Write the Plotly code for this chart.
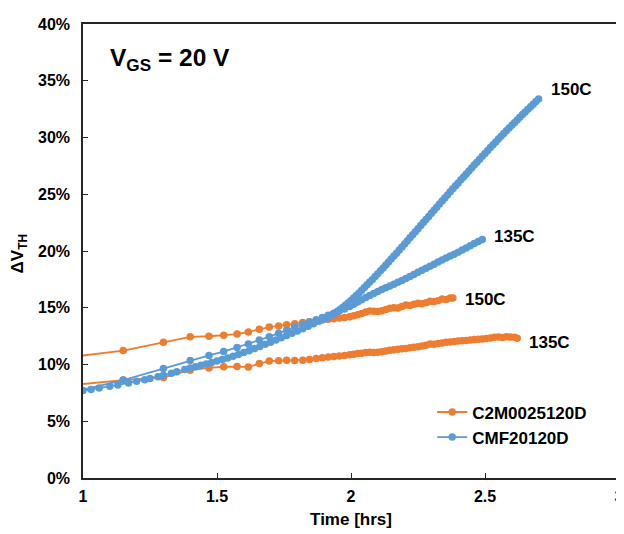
import plotly.graph_objects as go

# ---------------- data (x = Time axis value, y = delta VTH in %) ----------------
c2m_150_x = [0.90, 1.15, 1.30, 1.40, 1.47, 1.525, 1.575, 1.617, 1.658, 1.695, 1.73, 1.76, 1.79, 1.82,
             1.845, 1.87, 1.893, 1.915, 1.936, 1.956, 1.976, 1.995, 2.01, 2.025, 2.04, 2.055, 2.07,
             2.085, 2.10, 2.115, 2.13, 2.145, 2.16, 2.175, 2.19, 2.205, 2.22, 2.235, 2.25, 2.265,
             2.28, 2.295, 2.31, 2.325, 2.34, 2.355, 2.37, 2.38]
c2m_150_y = [10.5, 11.23, 11.95, 12.44, 12.49, 12.58, 12.68, 12.87, 13.1, 13.3, 13.4, 13.5, 13.6, 13.7,
             13.77, 13.85, 13.92, 13.98, 14.03, 14.1, 14.15, 14.2, 14.3, 14.38, 14.5, 14.62, 14.72,
             14.7, 14.68, 14.74, 14.85, 14.95, 15.0, 14.98, 15.1, 15.25, 15.2, 15.3, 15.4, 15.35,
             15.45, 15.58, 15.55, 15.62, 15.78, 15.72, 15.85, 15.85]

c2m_135_x = [0.90, 1.15, 1.30, 1.40, 1.47, 1.525, 1.575, 1.617, 1.658, 1.695, 1.73, 1.76, 1.79, 1.82,
             1.845, 1.87, 1.893, 1.915, 1.936, 1.956, 1.976, 1.995, 2.01, 2.025, 2.04, 2.055, 2.07,
             2.085, 2.10, 2.115, 2.13, 2.145, 2.16, 2.175, 2.19, 2.205, 2.22, 2.235, 2.25, 2.265,
             2.28, 2.295, 2.31, 2.325, 2.34, 2.355, 2.37, 2.385, 2.40, 2.415, 2.43, 2.445, 2.46,
             2.475, 2.49, 2.505, 2.52, 2.535, 2.55, 2.565, 2.58, 2.595, 2.61, 2.62]
c2m_135_y = [8.05, 8.63, 8.86, 9.5, 9.7, 9.8, 9.82, 9.78, 10.08, 10.3, 10.33, 10.38, 10.36, 10.38,
             10.45, 10.52, 10.6, 10.66, 10.7, 10.74, 10.8, 10.85, 10.9, 10.96, 11.0, 11.05, 11.08,
             11.06, 11.08, 11.12, 11.2, 11.25, 11.3, 11.35, 11.38, 11.42, 11.48, 11.52, 11.56, 11.62,
             11.7, 11.8, 11.78, 11.84, 11.9, 11.95, 11.98, 12.02, 12.06, 12.1, 12.12, 12.15, 12.2,
             12.22, 12.25, 12.3, 12.33, 12.4, 12.42, 12.38, 12.44, 12.42, 12.4, 12.32]

cmf_150_x = [1.00, 1.03, 1.06, 1.10, 1.13, 1.17, 1.20, 1.23, 1.25, 1.28, 1.30, 1.33, 1.35, 1.38, 1.40,
             1.42, 1.44, 1.46, 1.48, 1.50, 1.52, 1.54, 1.56, 1.58, 1.60, 1.62, 1.64, 1.66, 1.68, 1.70,
             1.72, 1.74, 1.76, 1.78, 1.80, 1.82, 1.84, 1.86, 1.88, 1.90, 1.91, 1.92, 1.93, 1.94, 1.95,
             1.96, 1.97, 1.98, 1.99, 2.00, 2.01, 2.02, 2.03, 2.04, 2.05, 2.06, 2.07, 2.08, 2.09, 2.10,
             2.11, 2.12, 2.13, 2.14, 2.15, 2.16, 2.17, 2.18, 2.19, 2.20, 2.21, 2.22, 2.23, 2.24, 2.25,
             2.26, 2.27, 2.28, 2.29, 2.30, 2.31, 2.32, 2.33, 2.34, 2.35, 2.36, 2.37, 2.38, 2.39, 2.40,
             2.41, 2.42, 2.43, 2.44, 2.45, 2.46, 2.47, 2.48, 2.49, 2.50, 2.51, 2.52, 2.53, 2.54, 2.55,
             2.56, 2.57, 2.58, 2.59, 2.60, 2.61, 2.62, 2.63, 2.64, 2.65, 2.66, 2.67, 2.68, 2.69, 2.70]
cmf_150_y = [7.70, 7.80, 7.92, 8.08, 8.20, 8.38, 8.52, 8.66, 8.77, 8.93, 9.05, 9.24, 9.37, 9.56, 9.69,
             9.81, 9.93, 10.05, 10.17, 10.30, 10.44, 10.58, 10.72, 10.88, 11.05, 11.22, 11.40, 11.59,
             11.78, 11.97, 12.16, 12.35, 12.55, 12.75, 12.95, 13.16, 13.38, 13.60, 13.80, 14.00, 14.12,
             14.25, 14.39, 14.54, 14.70, 14.87, 15.05, 15.24, 15.44, 15.64, 15.86, 16.08, 16.31, 16.54,
             16.78, 17.02, 17.26, 17.50, 17.75, 18.00, 18.25, 18.51, 18.77, 19.03, 19.29, 19.55, 19.81,
             20.08, 20.35, 20.62, 20.89, 21.16, 21.43, 21.70, 21.97, 22.24, 22.51, 22.78, 23.05, 23.32,
             23.59, 23.86, 24.13, 24.40, 24.67, 24.94, 25.21, 25.48, 25.74, 26.00, 26.27, 26.53, 26.79,
             27.05, 27.31, 27.57, 27.83, 28.09, 28.35, 28.60, 28.86, 29.11, 29.36, 29.61, 29.86, 30.11,
             30.35, 30.59, 30.83, 31.07, 31.31, 31.55, 31.79, 32.02, 32.25, 32.48, 32.71, 32.94, 33.17,
             33.40]

cmf_135_x = [0.90, 1.15, 1.30, 1.40, 1.47, 1.525, 1.575, 1.617, 1.658, 1.695, 1.73, 1.76, 1.79, 1.82,
             1.845, 1.87, 1.893, 1.915, 1.936, 1.956, 1.976, 1.995, 2.01, 2.025, 2.04, 2.055, 2.07,
             2.085, 2.10, 2.115, 2.13, 2.145, 2.16, 2.175, 2.19, 2.205, 2.22, 2.235, 2.25, 2.265,
             2.28, 2.295, 2.31, 2.325, 2.34, 2.355, 2.37, 2.385, 2.40, 2.415, 2.43, 2.445, 2.46,
             2.475, 2.49]
cmf_135_y = [7.2, 8.63, 9.64, 10.36, 10.8, 11.14, 11.5, 11.8, 12.15, 12.45, 12.76, 13.02, 13.28, 13.52,
             13.74, 13.95, 14.14, 14.33, 14.52, 14.72, 14.9, 15.1, 15.3, 15.5, 15.7, 15.9, 16.08,
             16.26, 16.44, 16.6, 16.76, 16.92, 17.08, 17.24, 17.4, 17.57, 17.75, 17.93, 18.12, 18.3,
             18.48, 18.66, 18.84, 19.02, 19.2, 19.38, 19.55, 19.72, 19.9, 20.08, 20.27, 20.46, 20.65,
             20.84, 21.02]

x_ticks = [1, 1.5, 2, 2.5, 3]
x_tick_text = ["1", "1.5", "2", "2.5", "3"]
y_ticks = [0, 5, 10, 15, 20, 25, 30, 35, 40]
y_tick_text = ["0%", "5%", "10%", "15%", "20%", "25%", "30%", "35%", "40%"]

series_names = ["C2M0025120D", "CMF20120D"]
curve_labels = ["150C", "135C"]

ORANGE = "#ED7D31"
BLUE = "#5B9BD5"
FONT = "Liberation Sans, Arial, sans-serif"
AXIS = "#262626"

fig = go.Figure()

def add(x, y, color, name, show):
    fig.add_trace(go.Scatter(
        x=x, y=y, mode="lines+markers", name=name, legendgroup=name, showlegend=show,
        line=dict(color=color, width=1.8),
        marker=dict(color=color, size=7.5, symbol="circle"),
    ))

add(c2m_150_x, c2m_150_y, ORANGE, series_names[0], True)
add(c2m_135_x, c2m_135_y, ORANGE, series_names[0], False)
add(cmf_150_x, cmf_150_y, BLUE, series_names[1], True)
add(cmf_135_x, cmf_135_y, BLUE, series_names[1], False)

# curve end labels
label_specs = [
    (curve_labels[0], 2.739, 34.2),
    (curve_labels[1], 2.525, 21.3),
    (curve_labels[0], 2.419, 15.7),
    (curve_labels[1], 2.655, 11.95),
]
for txt, lx, ly in label_specs:
    fig.add_annotation(x=lx, y=ly, xref="x", yref="y", text="<b>%s</b>" % txt,
                       showarrow=False, xanchor="left", yanchor="middle",
                       font=dict(family=FONT, size=17, color="#000000"))

fig.add_annotation(x=1.093, y=36.9, xref="x", yref="y",
                   text="<b>V<sub>GS</sub> = 20 V</b>", showarrow=False,
                   xanchor="left", yanchor="middle",
                   font=dict(family=FONT, size=24.5, color="#000000"))

fig.add_annotation(x=-0.12, y=0.494, xref="paper", yref="paper",
                   text="<b>ΔV<sub>TH</sub></b>", showarrow=False, textangle=-90,
                   xanchor="center", yanchor="middle",
                   font=dict(family=FONT, size=17, color="#000000"))

fig.update_layout(
    width=624, height=534,
    margin=dict(l=75, r=13, t=8, b=64),
    paper_bgcolor="white", plot_bgcolor="white",
    font=dict(family=FONT, size=16, color="#000000"),
    legend=dict(x=0.6515, y=0.184, xanchor="left", yanchor="top",
                bgcolor="rgba(0,0,0,0)",
                font=dict(family=FONT, size=17, color="#000000", weight="bold"),
                itemwidth=30, tracegroupgap=0),
    xaxis=dict(range=[1, 3], tickmode="array", tickvals=x_ticks,
               ticktext=["<b>%s</b>" % t for t in x_tick_text],
               showgrid=False, zeroline=False, showline=True, mirror=True,
               linecolor=AXIS, linewidth=1.5, ticks="inside", ticklen=5, tickcolor=AXIS,
               ticklabelstandoff=3,
               title=dict(text="<b>Time [hrs]</b>", font=dict(family=FONT, size=17), standoff=9)),
    yaxis=dict(range=[0, 40], tickmode="array", tickvals=y_ticks,
               ticktext=["<b>%s</b>" % t for t in y_tick_text],
               showgrid=False, zeroline=False, showline=True, mirror=True,
               linecolor=AXIS, linewidth=1.5, ticks="inside", ticklen=5, tickcolor=AXIS,
               ticklabelstandoff=8),
)

fig.write_html("out.html")
